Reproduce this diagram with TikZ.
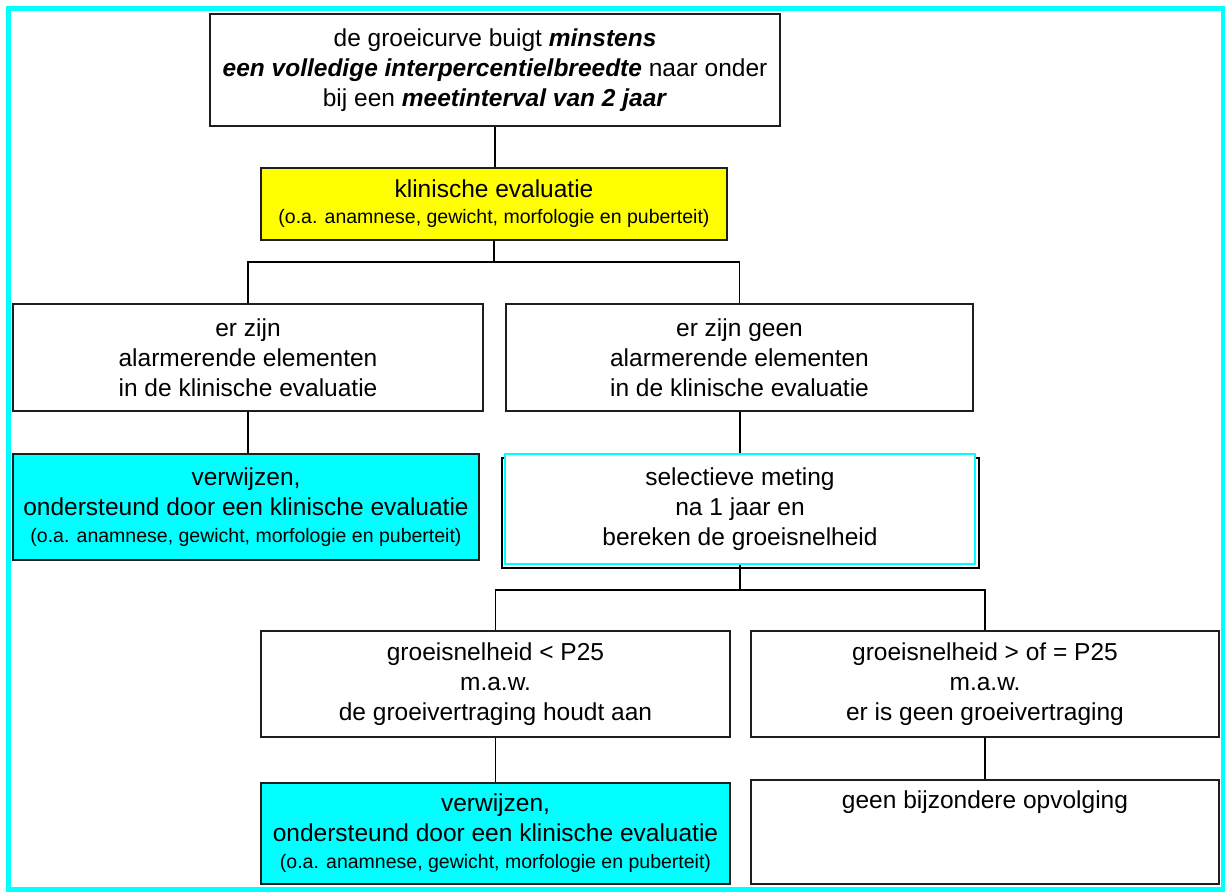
\documentclass[tikz,border=0pt]{standalone}
\usepackage{fontspec}
\setmainfont{Liberation Sans}
\newcommand{\fsmain}{\fontsize{24.5}{30}\selectfont}
\newcommand{\fssmall}{\fontsize{19.5}{25}\selectfont}
\definecolor{aqua}{RGB}{0,255,255}
\definecolor{yel}{RGB}{255,255,0}
\definecolor{edge}{RGB}{30,30,30}
\tikzset{
  box/.style={draw=edge, line width=1.6pt, fill=white, align=center, inner sep=0pt, font=\fsmain},
  cyanbox/.style={box, fill=aqua},
  yellowbox/.style={box, fill=yel},
  link/.style={draw=black, line width=1.3pt},
}
\begin{document}
\begin{tikzpicture}[x=1pt,y=-1pt]
\useasboundingbox (0,0) rectangle (1225,891);
\fill[white] (0,0) rectangle (1225,891);
\draw[aqua, line width=5pt] (8.5,8.5) rectangle (1223.5,889);

\node[box, minimum width=570, minimum height=112] (top) at (495,70)
  {de groeicurve buigt \textbf{\textit{minstens}}\\
   \textbf{\textit{een volledige interpercentielbreedte}} naar onder\\
   bij een \textbf{\textit{meetinterval van 2 jaar}}};

\node[yellowbox, minimum width=466, minimum height=72] (klin) at (494,204)
  {klinische evaluatie\\[-4pt]{\fssmall (o.a. anamnese, gewicht, morfologie en puberteit)}};

\node[box, minimum width=470, minimum height=107] (alarm) at (248,357.5)
  {er zijn\\alarmerende elementen\\in de klinische evaluatie};

\node[box, minimum width=467, minimum height=107] (geenalarm) at (739.5,357.5)
  {er zijn geen\\alarmerende elementen\\in de klinische evaluatie};

\node[cyanbox, minimum width=466, minimum height=106] (verw1) at (246,507)
  {verwijzen,\\ondersteund door een klinische evaluatie\\[-3pt]{\fssmall (o.a. anamnese, gewicht, morfologie en puberteit)}};

\draw[black, line width=1.6pt] (502,458) rectangle (979,568);
\node[box, draw=aqua, minimum width=470, minimum height=110] (sel) at (740,509)
  {selectieve meting\\na 1 jaar en\\bereken de groeisnelheid};

\node[box, minimum width=469, minimum height=106] (lt) at (495.5,684)
  {groeisnelheid < P25\\m.a.w.\\de groeivertraging houdt aan};

\node[box, minimum width=468, minimum height=106] (ge) at (985,684)
  {groeisnelheid > of = P25\\m.a.w.\\er is geen groeivertraging};

\node[cyanbox, minimum width=469, minimum height=101] (verw2) at (495.5,833.5)
  {verwijzen,\\ondersteund door een klinische evaluatie\\[-3pt]{\fssmall (o.a. anamnese, gewicht, morfologie en puberteit)}};

\node[box, minimum width=468, minimum height=104, inner ysep=11pt] (geen) at (985,832)
  {\parbox[c][82pt][t]{440pt}{\centering geen bijzondere opvolging}};

\coordinate (s1) at (494,262);
\coordinate (s2) at (740,590);

\draw[link] (top.south) -- (top.south |- klin.north);
\draw[link] (klin.south) -- (s1);
\draw[link] (alarm.north) |- (s1) -| (geenalarm.north);
\draw[link] (alarm.south) -- (alarm.south |- verw1.north);
\draw[link] (sel.north) -- (sel.north |- geenalarm.south);
\draw[link] (sel.south) -- (s2);
\draw[link] (lt.north) |- (s2) -| (ge.north);
\draw[link] (lt.south) -- (lt.south |- verw2.north);
\draw[link] (ge.south) -- (ge.south |- geen.north);
\end{tikzpicture}
\end{document}
